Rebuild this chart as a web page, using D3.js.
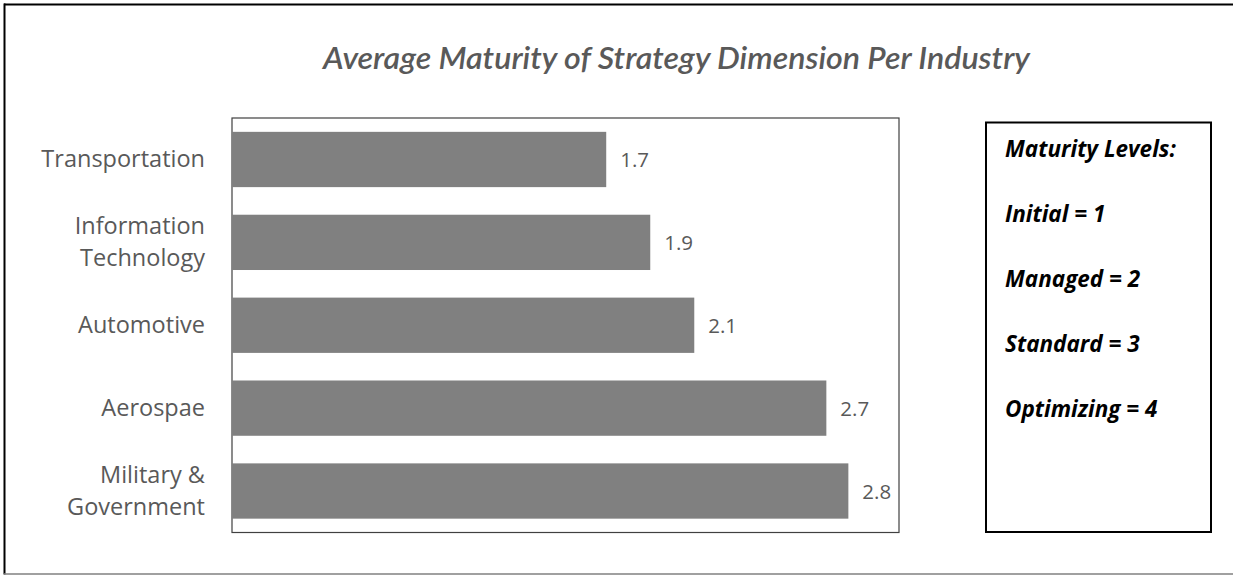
<!DOCTYPE html>
<html>
<head>
<meta charset="utf-8">
<script src="https://cdn.jsdelivr.net/npm/d3@7/dist/d3.min.js"></script>
<style>
  html, body { margin: 0; padding: 0; background: #ffffff; }
  svg { display: block; }
</style>
</head>
<body>
<svg id="chart" width="1233" height="575"></svg>
<script>
// Industries, top to bottom
const industries = ["Transportation", "Information Technology", "Automotive", "Aerospae", "Military & Government"];
// Category labels, split across lines as shown on the axis
const industryLabelLines = [["Transportation"], ["Information", "Technology"], ["Automotive"], ["Aerospae"], ["Military &", "Government"]];
// Average maturity score of the strategy dimension
const maturity = [1.7, 1.9, 2.1, 2.7, 2.8];
// Maturity level key
const levelNames = ["Initial", "Managed", "Standard", "Optimizing"];
const levelValues = [1, 2, 3, 4];

const titleText = "Average Maturity of Strategy Dimension Per Industry";
const legendHeading = "Maturity Levels:";

const svg = d3.select("#chart");
const W = 1233, H = 575;

// Outer frame
svg.append("line").attr("x1", 4).attr("x2", W + 2).attr("y1", 4.5).attr("y2", 4.5)
  .attr("stroke", "#000").attr("stroke-width", 2);
svg.append("line").attr("x1", 4.5).attr("x2", 4.5).attr("y1", 3.5).attr("y2", 574.5)
  .attr("stroke", "#000").attr("stroke-width", 2);
svg.append("line").attr("x1", 4).attr("x2", W + 2).attr("y1", 574).attr("y2", 574)
  .attr("stroke", "#808080").attr("stroke-width", 1.5);

// Title
svg.append("text")
  .attr("x", 676.5).attr("y", 68.5)
  .attr("text-anchor", "middle")
  .attr("font-family", "Lato, 'Open Sans', sans-serif")
  .attr("font-style", "italic")
  .attr("font-weight", 600)
  .attr("font-size", 30)
  .attr("fill", "#595959")
  .attr("textLength", 707)
  .attr("lengthAdjust", "spacingAndGlyphs")
  .text(titleText);

// Plot area
const plot = { left: 232, right: 899, top: 118, bottom: 532.5 };

const x = d3.scaleLinear().domain([0, 3.03]).range([plot.left, plot.right]);
const y = d3.scaleBand().domain(industries).range([plot.top, plot.bottom])
  .paddingInner(0.333).paddingOuter(0.167);

svg.append("rect")
  .attr("x", plot.left).attr("y", plot.top)
  .attr("width", plot.right - plot.left).attr("height", plot.bottom - plot.top)
  .attr("fill", "#fff").attr("stroke", "#404040").attr("stroke-width", 1.2);

const data = industries.map((name, i) => ({ name, value: maturity[i], lines: industryLabelLines[i] }));

// Bars
svg.append("g").selectAll("rect")
  .data(data).join("rect")
  .attr("x", x(0))
  .attr("y", d => y(d.name))
  .attr("width", d => x(d.value) - x(0))
  .attr("height", y.bandwidth())
  .attr("fill", "#808080");

// Value labels
svg.append("g").selectAll("text")
  .data(data).join("text")
  .attr("x", d => x(d.value) + 14)
  .attr("y", d => y(d.name) + y.bandwidth() / 2 + 8)
  .attr("font-family", "'Open Sans', sans-serif")
  .attr("font-size", 20.5)
  .attr("fill", "#595959")
  .text(d => d.value.toFixed(1));

// Category axis
const yAxis = d3.axisLeft(y).tickSize(0).tickPadding(27).tickFormat("");
const axisG = svg.append("g").attr("transform", `translate(${plot.left},0)`).call(yAxis);
axisG.select(".domain").remove();
const lineHeight = 32;
axisG.selectAll(".tick text").each(function (d) {
  const lines = industryLabelLines[industries.indexOf(d)];
  const t = d3.select(this)
    .attr("font-family", "'Open Sans', sans-serif")
    .attr("font-size", 23.5)
    .attr("fill", "#595959")
    .attr("dy", null);
  const offset0 = 8 - (lines.length - 1) * lineHeight / 2;
  lines.forEach((ln, k) => {
    t.append("tspan").attr("x", -27).attr("y", offset0 + k * lineHeight).text(ln);
  });
});

// Maturity level key
const legend = { left: 986, top: 122.5, right: 1211, bottom: 532 };
svg.append("rect")
  .attr("x", legend.left).attr("y", legend.top)
  .attr("width", legend.right - legend.left).attr("height", legend.bottom - legend.top)
  .attr("fill", "#fff").attr("stroke", "#000").attr("stroke-width", 2);

const legendLines = [legendHeading].concat(levelNames.map((n, i) => `${n} = ${levelValues[i]}`));
svg.append("g").selectAll("text")
  .data(legendLines).join("text")
  .attr("x", 1005)
  .attr("y", (d, i) => 157 + i * 65)
  .attr("font-family", "'Open Sans', sans-serif")
  .attr("font-style", "italic")
  .attr("font-weight", 700)
  .attr("font-size", 22.5)
  .attr("fill", "#000")
  .text(d => d);
</script>
</body>
</html>
